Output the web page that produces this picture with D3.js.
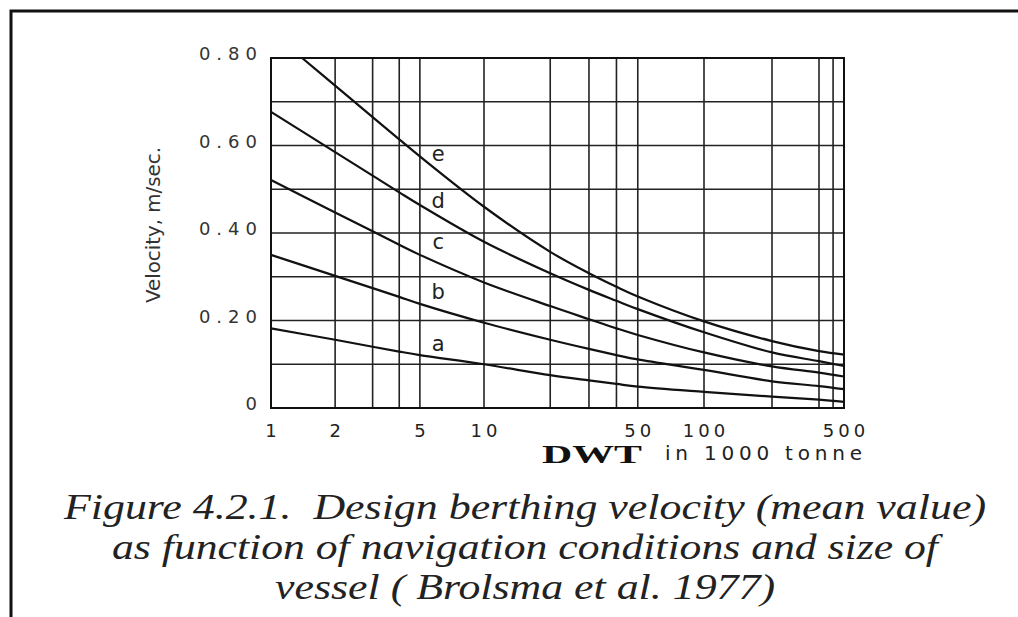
<!DOCTYPE html>
<html>
<head>
<meta charset="utf-8">
<script src="https://cdn.jsdelivr.net/npm/d3@7"></script>
<style>
  body { margin: 0; background: #fff; }
  svg { display: block; }
</style>
</head>
<body>
<div id="chart"></div>
<script>
// DWT (1000 tonne) and design berthing velocity (m/s)
const dwt  = [1, 2, 3, 4, 5, 10, 20, 30, 40, 50, 100, 200, 300, 500];
const dwtE = [1.4, 2, 3, 4, 5, 10, 20, 30, 40, 50, 100, 200, 300, 500];

const velA = [0.182, 0.156, 0.140, 0.129, 0.121, 0.100, 0.075, 0.063, 0.055, 0.049, 0.037, 0.026, 0.019, 0.014];
const velB = [0.350, 0.302, 0.274, 0.254, 0.238, 0.195, 0.156, 0.135, 0.121, 0.111, 0.087, 0.061, 0.050, 0.043];
const velC = [0.521, 0.447, 0.404, 0.373, 0.350, 0.287, 0.233, 0.203, 0.182, 0.167, 0.127, 0.095, 0.081, 0.072];
const velD = [0.677, 0.585, 0.531, 0.493, 0.464, 0.380, 0.308, 0.270, 0.245, 0.226, 0.173, 0.127, 0.107, 0.096];
const velE = [0.800, 0.737, 0.665, 0.614, 0.575, 0.460, 0.357, 0.308, 0.277, 0.255, 0.198, 0.153, 0.130, 0.122];

const curveNames = ["a", "b", "c", "d", "e"];
const labelDwt = 6.1;
const labelVel = [0.144, 0.263, 0.377, 0.471, 0.578];

const dwtGrid = [1, 2, 3, 4, 5, 10, 20, 30, 40, 50, 100, 200, 300, 400, 500];
const dwtTicks = [1, 2, 5, 10, 50, 100, 500];
const velGrid = [0, 0.1, 0.2, 0.3, 0.4, 0.5, 0.6, 0.7, 0.8];
const velTicks = [0, 0.2, 0.4, 0.6, 0.8];

const captionLines = [
  "Figure 4.2.1.  Design berthing velocity (mean value)",
  "as function of navigation conditions and size of",
  "vessel ( Brolsma et al. 1977)"
];

const width = 1018, height = 617;
const plotFont = "'DejaVu Sans', sans-serif";

const svg = d3.select("#chart").append("svg")
    .attr("width", width)
    .attr("height", height);

// page frame (left + top rule of the scanned page)
svg.append("path")
    .attr("d", "M11,617 V11 H1018")
    .attr("fill", "none")
    .attr("stroke", "#111")
    .attr("stroke-width", 3);

// the scanned log axis is not quite uniform, so use a piecewise log scale
const x = d3.scaleLog()
    .domain([1, 10, 100, 200, 300, 500])
    .range([271, 484, 704, 772, 819, 844]);

const y = d3.scaleLinear()
    .domain([0, 0.8])
    .range([408, 58]);

const g = svg.append("g");

// grid
g.selectAll(".vgrid")
  .data(dwtGrid)
  .enter().append("line")
    .attr("x1", d => x(d)).attr("x2", d => x(d))
    .attr("y1", y(0)).attr("y2", y(0.8))
    .attr("stroke", "#222")
    .attr("stroke-width", 1.6);

g.selectAll(".hgrid")
  .data(velGrid)
  .enter().append("line")
    .attr("x1", x(1)).attr("x2", x(500))
    .attr("y1", d => y(d)).attr("y2", d => y(d))
    .attr("stroke", "#222")
    .attr("stroke-width", 1.6);

// frame of plot
g.append("rect")
    .attr("x", x(1)).attr("y", y(0.8))
    .attr("width", x(500) - x(1))
    .attr("height", y(0) - y(0.8))
    .attr("fill", "none")
    .attr("stroke", "#111")
    .attr("stroke-width", 2);

// curves
const series = [
  {name: "a", xs: dwt, vs: velA},
  {name: "b", xs: dwt, vs: velB},
  {name: "c", xs: dwt, vs: velC},
  {name: "d", xs: dwt, vs: velD},
  {name: "e", xs: dwtE, vs: velE}
];

const line = d3.line()
    .x(d => x(d[0]))
    .y(d => y(d[1]))
    .curve(d3.curveCatmullRom.alpha(0.5));

g.selectAll(".curve")
  .data(series)
  .enter().append("path")
    .attr("d", s => line(s.xs.map((v, i) => [v, s.vs[i]])))
    .attr("fill", "none")
    .attr("stroke", "#111")
    .attr("stroke-width", 2.2);

g.selectAll(".clabel")
  .data(curveNames)
  .enter().append("text")
    .attr("x", x(labelDwt))
    .attr("y", (d, i) => y(labelVel[i]))
    .attr("text-anchor", "middle")
    .attr("dominant-baseline", "middle")
    .attr("font-family", plotFont)
    .attr("font-size", 21)
    .attr("fill", "#222")
    .text(d => d);

// y tick labels
g.selectAll(".ytick")
  .data(velTicks)
  .enter().append("text")
    .attr("x", 263)
    .attr("y", d => y(d) - 3)
    .attr("text-anchor", "end")
    .attr("dominant-baseline", "middle")
    .attr("font-family", plotFont)
    .attr("font-size", 18)
    .attr("letter-spacing", 6)
    .attr("fill", "#333")
    .text(d => d === 0 ? "0" : d.toFixed(2));

// x tick labels
g.selectAll(".xtick")
  .data(dwtTicks)
  .enter().append("text")
    .attr("x", d => x(d) + 2)
    .attr("y", 437)
    .attr("text-anchor", "middle")
    .attr("font-family", plotFont)
    .attr("font-size", 18)
    .attr("letter-spacing", 4)
    .attr("fill", "#222")
    .text(d => d);

// axis titles
svg.append("text")
    .attr("transform", "translate(160,225) rotate(-90)")
    .attr("text-anchor", "middle")
    .attr("font-family", plotFont)
    .attr("font-size", 19)
    .attr("textLength", 156)
    .attr("lengthAdjust", "spacingAndGlyphs")
    .attr("fill", "#333")
    .text("Velocity, m/sec.");

svg.append("text")
    .attr("x", 542).attr("y", 463)
    .attr("font-family", "'Liberation Serif', serif")
    .attr("font-weight", "bold")
    .attr("font-size", 26)
    .attr("textLength", 100)
    .attr("lengthAdjust", "spacingAndGlyphs")
    .attr("fill", "#111")
    .text("DWT");

svg.append("text")
    .attr("x", 665).attr("y", 460)
    .attr("font-family", plotFont)
    .attr("font-size", 20)
    .attr("textLength", 197)
    .attr("lengthAdjust", "spacing")
    .attr("fill", "#222")
    .text("in 1000 tonne");

// caption
const captionWidths = [922, 826, 500];
svg.selectAll(".caption")
  .data(captionLines)
  .enter().append("text")
    .attr("x", 525)
    .attr("y", (d, i) => 519 + i * 40)
    .attr("text-anchor", "middle")
    .attr("font-family", "'Liberation Serif', serif")
    .attr("font-style", "italic")
    .attr("font-size", 35)
    .attr("textLength", (d, i) => captionWidths[i])
    .attr("lengthAdjust", "spacingAndGlyphs")
    .style("white-space", "pre")
    .attr("fill", "#222")
    .text(d => d);
</script>
</body>
</html>
